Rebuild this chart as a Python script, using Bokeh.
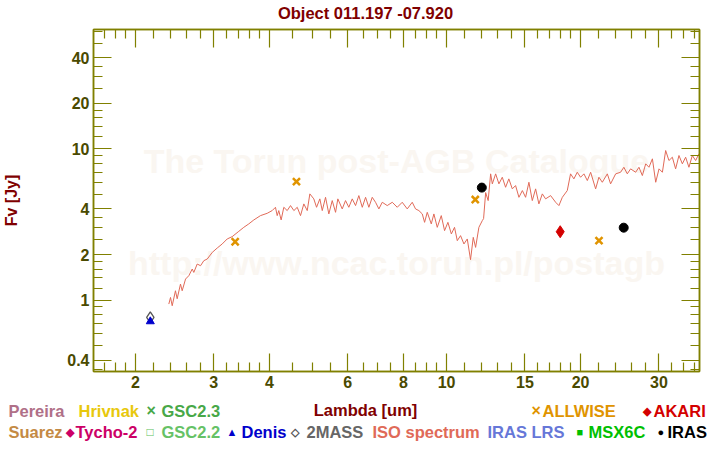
from bokeh.plotting import figure
from bokeh.layouts import column
from bokeh.models import (LogAxis, FixedTicker, Range1d, Label, CustomJSTickFormatter)
from bokeh.core.properties import value
from bokeh.embed import file_html
from bokeh.resources import INLINE

# ---------------- data ----------------
iso_lam = [2.377, 2.398, 2.419, 2.460, 2.482, 2.525, 2.547, 2.592, 2.636, 2.683,
           2.705, 2.753, 2.801, 2.849, 2.900, 2.976, 3.054, 3.133, 3.215, 3.299,
           3.414, 3.503, 3.594, 3.690, 3.819, 3.954, 4.057, 4.127, 4.164, 4.198,
           4.250, 4.309, 4.385, 4.461, 4.539, 4.619, 4.698, 4.779, 4.864, 4.930,
           5.032, 5.104, 5.192, 5.257, 5.347, 5.439, 5.535, 5.631, 5.698, 5.829,
           5.929, 6.031, 6.139, 6.245, 6.352, 6.466, 6.577, 6.690, 6.808, 6.925,
           7.046, 7.170, 7.357, 7.551, 7.748, 7.950, 8.159, 8.373, 8.517, 8.666,
           8.819, 8.925, 9.049, 9.239, 9.365, 9.530, 9.730, 9.897, 10.07, 10.25,
           10.42, 10.57, 10.75, 10.94, 11.13, 11.32, 11.48, 11.62, 11.82, 12.03,
           12.11, 12.24, 12.40, 12.56,
           12.67, 12.89, 13.11, 13.34, 13.57, 13.80, 14.05, 14.29, 14.54, 14.80,
           15.05, 15.31, 15.58, 15.85, 16.12, 16.41, 16.69, 17.13, 17.58, 17.88,
           18.20, 18.67, 18.99, 19.32, 19.66, 20.00, 20.35, 20.71, 21.07, 21.62,
           21.99, 22.38, 22.97, 23.36, 23.98, 24.60, 25.02, 25.47, 25.91, 26.59,
           27.05, 27.53, 28.01, 28.49, 29.00, 29.50, 30.01, 30.54, 31.06, 31.59,
           32.15, 32.70, 33.27, 33.86, 34.44, 35.03, 35.65, 36.27, 36.90]
iso_flux = [0.941, 1.040, 0.917, 1.152, 1.020, 1.276, 1.152, 1.377, 1.449, 1.604,
            1.523, 1.731, 1.687, 1.821, 1.868, 2.066, 2.210, 2.349, 2.535, 2.626,
            2.847, 3.026, 3.187, 3.387, 3.617, 3.746, 3.904, 4.105, 3.617, 3.904,
            3.387, 4.105, 3.904, 4.213, 3.904, 4.105, 3.617, 4.323, 3.904, 5.035,
            4.667, 4.105, 4.667, 3.904, 4.780, 3.711, 4.547, 3.803, 4.667, 4.005,
            4.547, 4.105, 4.667, 4.213, 4.905, 4.105, 4.780, 4.105, 4.780, 4.431,
            4.005, 4.431, 4.213, 4.431, 4.105, 4.431, 4.005, 4.431, 4.005, 3.904,
            3.711, 3.265, 3.803, 3.187, 3.711, 3.026, 3.617, 2.877, 3.265, 2.736,
            3.026, 2.470, 2.666, 2.349, 2.535, 1.849, 2.598, 2.230, 3.026, 3.351,
            3.455, 5.136, 4.547, 6.830,
            5.865, 6.830, 5.865, 6.485, 5.568, 6.328, 5.434, 5.715, 4.780, 5.295,
            4.780, 6.010, 4.547, 5.434, 4.323, 5.035, 4.667, 4.905, 4.431, 4.213,
            4.780, 5.295, 6.830, 6.328, 6.998, 6.485, 6.830, 6.168, 6.998, 5.434,
            6.485, 6.010, 6.830, 5.865, 6.830, 6.998, 7.552, 6.830, 7.370, 6.998,
            7.552, 6.656, 7.956, 7.552, 8.586, 6.010, 7.370, 6.998, 9.744, 8.365,
            8.800, 7.370, 9.030, 7.956, 8.800, 7.552, 9.030, 8.365, 9.268]

twomass_lam = [2.16]
twomass_flux = [0.767]
denis_lam = [2.16]
denis_flux = [0.722]
allwise_lam = [3.35, 4.6, 11.6, 22.0]
allwise_flux = [2.43, 6.07, 4.62, 2.47]
iras_lam = [12.0, 25.0]
iras_flux = [5.54, 3.01]
akari_lam = [18.0]
akari_flux = [2.83]

x_major = [2, 3, 4, 6, 8, 10, 15, 20, 30]
x_minor = [1.6, 1.7, 1.8, 1.9, 2.2, 2.4, 2.6, 2.8, 3.2, 3.4, 3.6, 3.8, 4.5, 5, 5.5,
           6.5, 7, 7.5, 8.5, 9, 9.5, 11, 12, 13, 14, 16, 17, 18, 19, 22, 24, 26, 28,
           32, 34, 36]
y_major = [0.4, 1, 2, 4, 10, 20, 40]
y_minor = [0.35, 0.5, 0.6, 0.7, 0.8, 0.9, 1.2, 1.4, 1.6, 1.8, 2.5, 3, 3.5, 5, 6, 7,
           8, 9, 12, 14, 16, 18, 25, 30, 35, 50, 60]

title_text = "Object 011.197 -07.920"
x_label = "Lambda [um]"
y_label = "Fv [Jy]"

legend_row1 = ["Pereira", "Hrivnak", "\u00d7", "GSC2.3", "\u00d7", "ALLWISE", "\u25c6", "AKARI"]
legend_row2 = ["Suarez", "\u25c6", "Tycho-2", "\u25a1", "GSC2.2", "\u25b2", "Denis",
               "\u25c7", "2MASS", "ISO spectrum", "IRAS LRS", "\u25a0", "MSX6C",
               "\u25cf", "IRAS"]

# ---------------- style ----------------
OLIVE = "#808000"
TICKLAB = "#4a4a00"
DARKRED = "#800000"
FONT = "Liberation Sans"
TXT = "16.5px"

W = 720
TOP_H = 24
MAIN_H = 373
LEG_H = 450 - TOP_H - MAIN_H
FL, FR = 93, 699
FT, FB = 29, 371          # frame top / bottom on the page


def strip(height, y0):
    f = figure(width=W, height=height, x_range=Range1d(0, W),
               y_range=Range1d(y0 + height, y0), output_backend="svg",
               toolbar_location=None, min_border=0,
               min_border_left=0, min_border_right=0, min_border_top=0,
               min_border_bottom=0, x_axis_location=None, y_axis_location=None)
    f.frame_align = False
    f.outline_line_color = None
    f.xgrid.visible = False
    f.ygrid.visible = False
    f.background_fill_color = "white"
    f.border_fill_color = "white"
    return f


# ---------------- title strip ----------------
t = strip(TOP_H, 0)
t.text(x=[365], y=[12], text=[title_text], text_color=DARKRED, text_font=value(FONT),
       text_font_style="bold", text_font_size=TXT, text_baseline="middle",
       text_align="center")

# ---------------- main plot ----------------
p = figure(width=W, height=MAIN_H, x_axis_type="log", y_axis_type="log",
           x_range=Range1d(1.61, 37.0), y_range=Range1d(0.337, 61.5),
           output_backend="svg", toolbar_location=None,
           min_border_left=FL, min_border_right=W - FR,
           min_border_top=FT - TOP_H, min_border_bottom=TOP_H + MAIN_H - FB)
p.frame_align = False
p.background_fill_color = "white"
p.border_fill_color = "white"
p.outline_line_color = OLIVE
p.outline_line_width = 1.5
p.xgrid.visible = False
p.ygrid.visible = False

fmt = CustomJSTickFormatter(code="return String(tick);")


def style_axis(ax, major, minor, labels):
    ax.ticker = FixedTicker(ticks=major, minor_ticks=minor)
    ax.formatter = fmt
    ax.axis_line_color = OLIVE
    ax.axis_line_width = 1.5
    ax.major_tick_line_color = OLIVE
    ax.minor_tick_line_color = OLIVE
    ax.major_tick_line_width = 1.2
    ax.minor_tick_line_width = 1.2
    ax.major_tick_in = 18
    ax.major_tick_out = 0
    ax.minor_tick_in = 9
    ax.minor_tick_out = 0
    if labels:
        ax.major_label_text_font = FONT
        ax.major_label_text_font_style = "bold"
        ax.major_label_text_font_size = "16px"
        ax.major_label_text_color = TICKLAB
        ax.major_label_standoff = 4
    else:
        ax.major_label_text_font_size = "0px"
        ax.major_label_standoff = 0


style_axis(p.xaxis[0], x_major, x_minor, True)
style_axis(p.yaxis[0], y_major, y_minor, True)
yax = p.yaxis[0]
yax.axis_label = y_label
yax.axis_label_text_font = FONT
yax.axis_label_text_font_style = "bold"
yax.axis_label_text_font_size = "16px"
yax.axis_label_text_color = DARKRED
yax.axis_label_standoff = 44

top = LogAxis()
right = LogAxis()
style_axis(top, x_major, x_minor, False)
style_axis(right, y_major, y_minor, False)
p.add_layout(top, "above")
p.add_layout(right, "right")

# watermark
for txt, cy in [("The Torun post-AGB Catalogue", 160),
                ("http://www.ncac.torun.pl/postagb", 262)]:
    p.add_layout(Label(x=(FR - FL) / 2, y=FB - cy, x_units="screen", y_units="screen",
                       text=txt, text_align="center", text_baseline="middle",
                       text_font=FONT, text_font_style="bold", text_font_size="34px",
                       text_color="#faf6f1", level="underlay"))

# ---------------- data marks ----------------
p.line(iso_lam, iso_flux, line_color="#e06a58", line_width=1)
p.scatter(twomass_lam, twomass_flux, marker="diamond", size=11, fill_color=None,
          line_color="#555555", line_width=1.3)
p.scatter(denis_lam, denis_flux, marker="triangle", size=8, fill_color="#0000cc",
          line_color="#0000cc")
p.scatter(allwise_lam, allwise_flux, marker="x", size=10, line_color="#e09400",
          line_width=2.5)
p.scatter(iras_lam, iras_flux, marker="circle", size=9, fill_color="black",
          line_color="black")
p.scatter(akari_lam, akari_flux, marker="diamond", size=12, fill_color="#d40000",
          line_color="#d40000")

# ---------------- bottom strip: x label + legend ----------------
q = strip(LEG_H, TOP_H + MAIN_H)

R1, R2 = 410, 431
row1_x = [8, 78, 146, 161, 531, 542, 642, 653]
row1_c = ["#b07088", "#e8c80c", "#48a848", "#48a848", "#e09400", "#e09400",
          "#d40000", "#d40000"]
row1_s = [TXT, TXT, "16px", TXT, "16px", TXT, "11px", TXT]
row2_x = [8, 65, 75, 146, 161, 226, 241, 290, 306, 372, 487, 576, 588, 657, 667]
row2_c = ["#c48a44", "#cc0066", "#cc0066", "#5cbf5c", "#66c266", "#0000cc",
          "#0000cc", "#555555", "#666666", "#e06a58", "#6677d8", "#00c000",
          "#00c000", "#000000", "#000000"]
row2_s = [TXT, "11px", TXT, "12px", TXT, "11px", TXT, "11px", TXT,
          TXT, TXT, "11px", TXT, "11px", TXT]

for texts, xs, cols, sizes, ry in [(legend_row1, row1_x, row1_c, row1_s, R1),
                                   (legend_row2, row2_x, row2_c, row2_s, R2)]:
    for tx, lx, c, s in zip(texts, xs, cols, sizes):
        q.text(x=[lx], y=[ry], text=[tx], text_color=c, text_font=value(FONT),
               text_font_style="bold", text_font_size=s, text_baseline="middle",
               text_align="left")

q.text(x=[365], y=[409], text=[x_label], text_color=DARKRED, text_font=value(FONT),
       text_font_style="bold", text_font_size=TXT, text_baseline="middle",
       text_align="center")

layout = column(t, p, q, spacing=0)
open("out.html", "w").write(file_html(layout, INLINE))
